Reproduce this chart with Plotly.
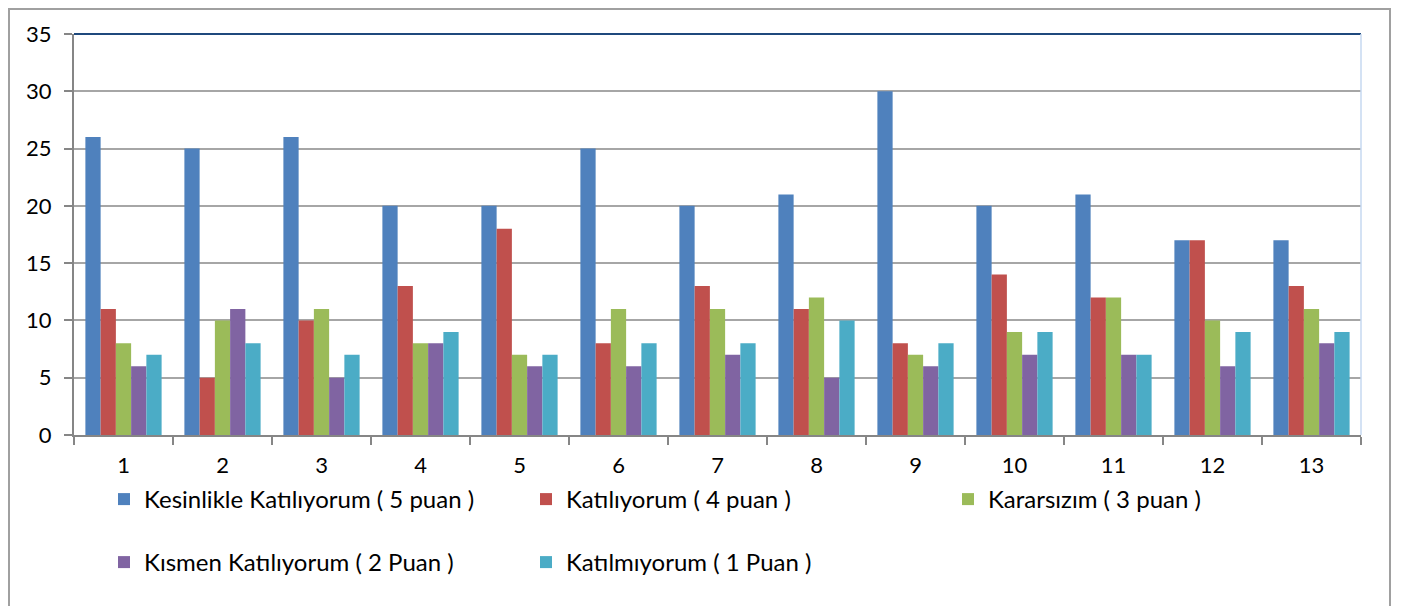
import plotly.graph_objects as go

categories = [str(i) for i in range(1, 14)]
series_names = [
    "Kesinlikle Katılıyorum ( 5 puan )",
    "Katılıyorum ( 4 puan )",
    "Kararsızım ( 3 puan )",
    "Kısmen Katılıyorum ( 2 Puan )",
    "Katılmıyorum ( 1 Puan )",
]
kesinlikle = [26, 25, 26, 20, 20, 25, 20, 21, 30, 20, 21, 17, 17]
katiliyorum = [11, 5, 10, 13, 18, 8, 13, 11, 8, 14, 12, 17, 13]
kararsizim = [8, 10, 11, 8, 7, 11, 11, 12, 7, 9, 12, 10, 11]
kismen = [6, 11, 5, 8, 6, 6, 7, 5, 6, 7, 7, 6, 8]
katilmiyorum = [7, 8, 7, 9, 7, 8, 8, 10, 8, 9, 7, 9, 9]
series_values = [kesinlikle, katiliyorum, kararsizim, kismen, katilmiyorum]
colors = ["#4F81BD", "#C0504D", "#9BBB59", "#8064A2", "#4BACC6"]
y_ticks = [0, 5, 10, 15, 20, 25, 30, 35]

OFF = 7  # page offset of the figure inside the browser
W, H = 1402, 606
L, R, T, B = 73 - OFF, 1360 - OFF, 33 - OFF, 434 - OFF
pw, ph = R - L, B - T

def px_x(x):
    return (x - OFF - L) / pw

def px_y(y):
    return (B - (y - OFF)) / ph

FONT = "Lato"
LEG_FONT = 24
TICK_FONT = 22
fig = go.Figure()
for i, (name, vals, c) in enumerate(zip(series_names, series_values, colors)):
    fig.add_trace(go.Bar(
        x=categories, y=vals, name=name, marker_color=c,
        marker_line_width=0,
        legend="legend" if i < 3 else "legend2",
    ))

leg_common = dict(orientation="h", xanchor="left", yanchor="top",
                  entrywidth=377, entrywidthmode="pixels",
                  font=dict(size=LEG_FONT, family=FONT, color="black"),
                  bgcolor="rgba(0,0,0,0)", traceorder="normal")
fig.update_layout(
    width=W, height=H,
    margin=dict(l=L, r=W - R, t=T, b=H - B),
    paper_bgcolor="white", plot_bgcolor="white",
    barmode="group", bargap=0.23, bargroupgap=0,
    font=dict(family=FONT, size=TICK_FONT, color="black"),
    showlegend=True,
    legend=dict(x=px_x(103), y=px_y(476), **leg_common),
    legend2=dict(x=px_x(103), y=px_y(539), **leg_common),
)
fig.update_xaxes(
    type="category", showgrid=False, showline=True, linecolor="#868686", linewidth=2,
    ticks="outside", tickson="boundaries", ticklen=8, tickcolor="#868686", tickwidth=2,
    ticklabelstandoff=10,
    tickfont=dict(size=TICK_FONT, family=FONT, color="black"),
)
fig.update_yaxes(
    range=[0, 35], tickvals=y_ticks, showgrid=True, gridcolor="#A6A6A6", gridwidth=1.5,
    showline=True, linecolor="#868686", linewidth=2, ticks="outside", ticklen=8,
    tickcolor="#868686", tickwidth=2, zeroline=False, ticklabelstandoff=8,
    tickfont=dict(size=TICK_FONT, family=FONT, color="black"),
)
# outer chart border (kept just inside the figure)
fig.add_shape(type="rect", xref="paper", yref="paper",
              x0=-(L - 1) / pw, x1=px_x(1389), y0=px_y(640), y1=(B - 1) / ph,
              line=dict(color="#A0A0A0", width=2), layer="below")
# top and right plot border
fig.add_shape(type="line", xref="paper", yref="paper", x0=0, x1=1, y0=1, y1=1,
              line=dict(color="#1F497D", width=2))
fig.add_shape(type="line", xref="paper", yref="paper", x0=1, x1=1, y0=0, y1=1,
              line=dict(color="#C6D9F1", width=1.5))

fig.write_html("out.html")
